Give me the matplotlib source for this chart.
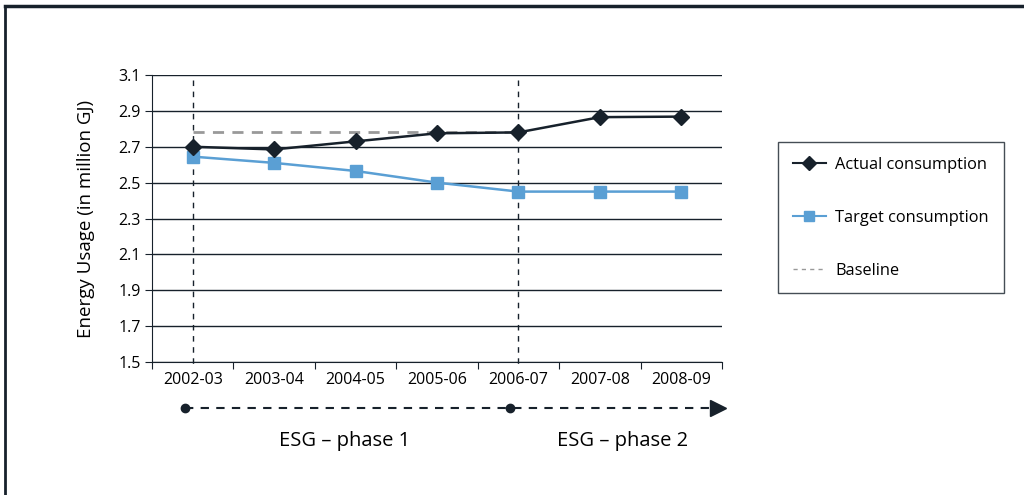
import matplotlib.pyplot as plt
from matplotlib.lines import Line2D

plt.rcParams['font.family'] = ['Open Sans', 'DejaVu Sans']

years = ['2002-03', '2003-04', '2004-05', '2005-06', '2006-07', '2007-08', '2008-09']
actual = [2.70, 2.685, 2.73, 2.775, 2.78, 2.865, 2.868]
target = [2.645, 2.61, 2.565, 2.50, 2.45, 2.45, 2.45]
baseline = [2.78, 2.78, 2.78, 2.78, 2.78]
phase_labels = ['ESG \u2013 phase 1', 'ESG \u2013 phase 2']
yticks = [1.5, 1.7, 1.9, 2.1, 2.3, 2.5, 2.7, 2.9, 3.1]

dark = '#17212b'
blue = '#5a9fd4'

fig = plt.figure(figsize=(10.24, 4.95), dpi=100)
ax = fig.add_axes([152/1024, 1 - 362/495, 570/1024, 287/495])

x = list(range(len(years)))
for y in yticks:
    ax.axhline(y, color=dark, lw=1.0, zorder=1)
ax.plot(x[:len(baseline)], baseline, color='#999999', lw=2, ls=(0, (4, 3)), zorder=2)
ax.plot(x, target, color=blue, lw=1.8, marker='s', ms=9, zorder=3)
ax.plot(x, actual, color=dark, lw=1.8, marker='D', ms=8, zorder=4)

for xv in (0, 4):
    ax.plot([xv, xv], [3.07, 1.48], color=dark, lw=1, ls=(0, (4, 4)), clip_on=False, zorder=2)

ax.set_xlim(-0.5, 6.5)
ax.set_ylim(1.5, 3.1)
ax.set_yticks(yticks)
ax.set_yticklabels(['%.1f' % v for v in yticks], fontsize=11.5)
ax.set_xticks([v + 0.5 for v in range(-1, 7)], minor=False)
ax.set_xticklabels([])
ax.set_xticks(x, minor=True)
ax.set_xticklabels(years, minor=True, fontsize=11.5)
ax.tick_params(axis='x', which='minor', length=0, pad=7)
ax.tick_params(axis='x', which='major', length=5, direction='out', color=dark)
ax.tick_params(axis='y', length=5, color=dark, pad=3)
for s in ('top', 'right'):
    ax.spines[s].set_visible(False)
ax.spines['left'].set_color(dark)
ax.spines['bottom'].set_color(dark)
ax.set_ylabel('Energy Usage (in million GJ)', fontsize=13.5, labelpad=17)

# phase arrow row below the axis
ax.plot([-0.1, 6.45], [1.245, 1.245], color=dark, lw=1.5, ls=(0, (4, 3.5)), clip_on=False)
ax.plot([-0.1, 3.9], [1.245, 1.245], 'o', color=dark, ms=6, clip_on=False)
ax.plot([6.45], [1.245], '>', color=dark, ms=11, clip_on=False)
ax.text(1.87, 1.06, phase_labels[0], ha='center', va='center', fontsize=14.5)
ax.text(5.28, 1.06, phase_labels[1], ha='center', va='center', fontsize=14.5)

handles = [
    Line2D([], [], color=dark, lw=1.5, marker='D', ms=7),
    Line2D([], [], color=blue, lw=1.5, marker='s', ms=7),
    Line2D([], [], color='#999999', lw=1, ls=(0, (3, 3))),
]
leg = fig.legend(handles, ['Actual consumption', 'Target consumption', 'Baseline'],
                 loc='upper left', bbox_to_anchor=(778/1024, 1 - 142/495),
                 fontsize=11.8, frameon=True, fancybox=False, labelspacing=2.25,
                 handlelength=2.0, handletextpad=0.6, borderpad=0.9, borderaxespad=0)
leg.get_frame().set_edgecolor(dark)
leg.get_frame().set_linewidth(1)

# outer frame (top and left edges visible)
fig.add_artist(Line2D([5/1024, 1], [1 - 6/495, 1 - 6/495], color=dark, lw=2.5, transform=fig.transFigure))
fig.add_artist(Line2D([5/1024, 5/1024], [0, 1 - 6/495], color=dark, lw=2, transform=fig.transFigure))

fig.savefig('out.png', dpi=100)
